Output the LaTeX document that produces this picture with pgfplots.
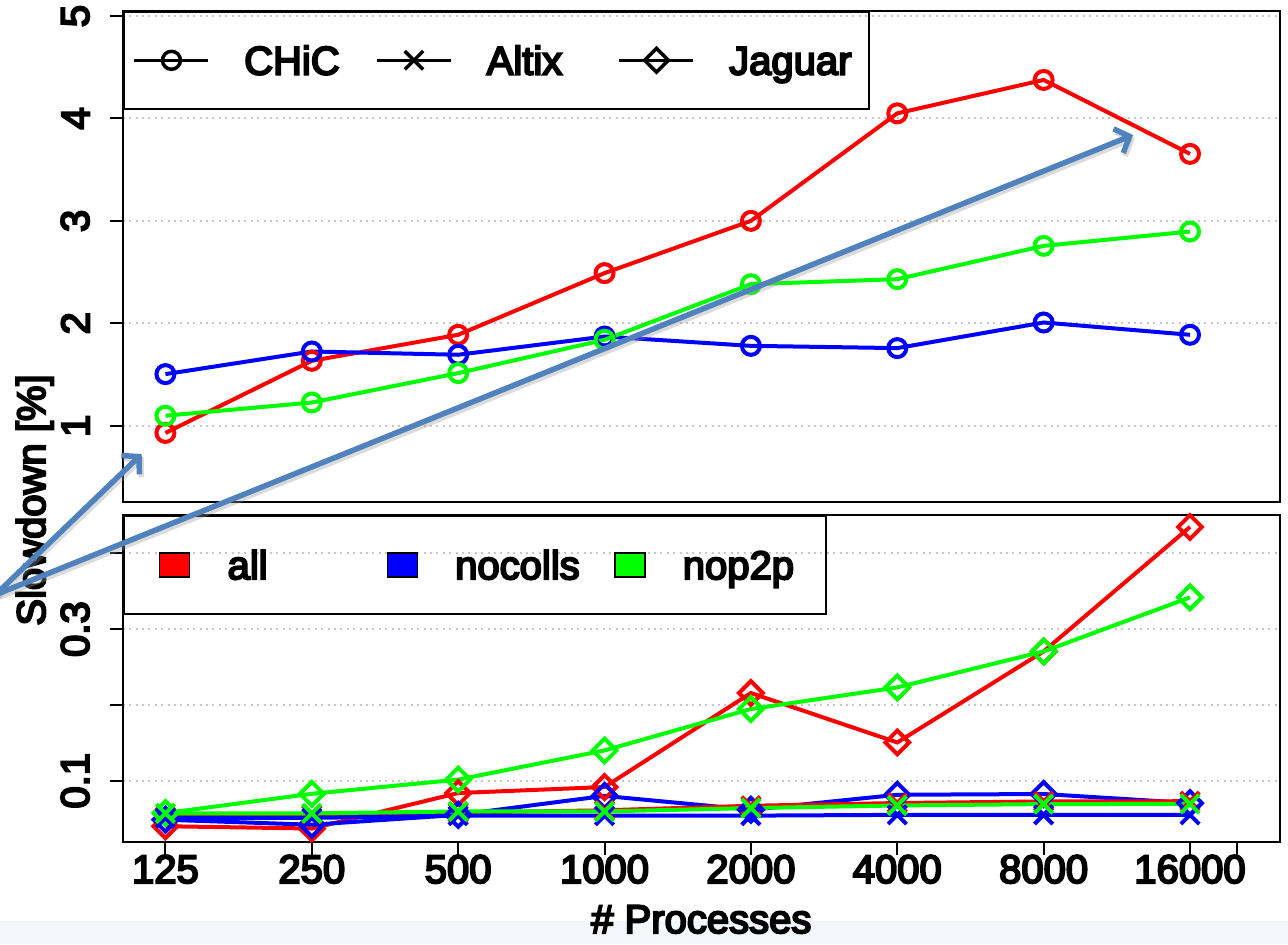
\documentclass[border=0pt]{standalone}
\usepackage{fontspec}
\setmainfont{Liberation Sans}[FakeBold=5]
\usepackage{pgfplots}
\usepackage{pgfplotstable}
\pgfplotsset{compat=1.18}
\usetikzlibrary{arrows.meta}
\definecolor{arrowblue}{RGB}{80,130,190}
\definecolor{stripblue}{RGB}{243,247,251}
\newcommand\cf{\fontsize{20}{24}\selectfont}

% CHiC (top panel)
\pgfplotstableread{
x all nocolls nop2p
0 0.93  1.504 1.098
1 1.634 1.725 1.227
2 1.888 1.693 1.514
3 2.49  1.871 1.839
4 3.00  1.78  2.382
5 4.05  1.758 2.431
6 4.376 2.008 2.756
7 3.654 1.888 2.896
}\chic
% Jaguar (bottom panel)
\pgfplotstableread{
x all nocolls nop2p
0 0.040  0.0486 0.0574
1 0.037  0.042  0.0828
2 0.0838 0.055  0.1015
3 0.0917 0.080  0.140
4 0.2157 0.0617 0.1946
5 0.1505 0.0815 0.2231
6 0.2706 0.0825 0.2706
7 0.4347 0.0706 0.3418
}\jaguar
% Altix (bottom panel)
\pgfplotstableread{
x all nocolls nop2p
0 0.053  0.051 0.057
1 0.055  0.051 0.057
2 0.058  0.054 0.0595
3 0.061  0.054 0.0595
4 0.067  0.054 0.064
5 0.0706 0.055 0.0674
6 0.0727 0.055 0.0692
7 0.073  0.055 0.0695
}\altix

\pgfplotsset{
  panel/.style={
    scale only axis, width=578.65pt,
    xmin=-0.292, xmax=7.615,
    tick pos=left, tick align=outside, major tick length=6.5pt,
    axis line style={line width=1pt},
    every tick/.style={black, line width=1pt},
    ymajorgrids, grid style={draw=black!22, line width=1pt, dash pattern=on 1pt off 2.2pt},
    tick label style={font=\cf},
    /pgf/number format/assume math mode=true,
    yticklabel style={xshift=-10pt, rotate=90, anchor=south, inner sep=0pt},
    xticklabel style={anchor=north, inner sep=0pt},
    label style={font=\cf},
    legend cell align=left,
  },
  dl/.style={line width=2pt, mark options={solid}},
}

\begin{document}
\begin{tikzpicture}
\path[use as bounding box] (0,0) rectangle (644pt,472pt);
\fill[stripblue] (0,0) rectangle (644pt,11.3pt);

% ---------- top panel: CHiC ----------
\begin{axis}[panel,
  at={(61.35pt,466.5pt)}, anchor=north west, height=245.35pt,
  ymin=0.2585, ymax=5.049,
  xtick=\empty, ytick={1,2,3,4,5},
  legend columns=3,
  legend image code/.code={\draw[mark repeat=2,mark phase=2,#1] plot coordinates {(0pt,0pt) (18.5pt,0pt) (37pt,0pt)};},
  legend style={at={(0,1)}, anchor=north west, draw=black, line width=1pt, fill=none,
    inner xsep=4.5pt, inner ysep=17pt, font=\cf,
    nodes={inner sep=0pt, text height=14.3pt, text depth=0pt, text width=65.5pt},
    /tikz/every odd column/.append style={column sep=17pt},
    /tikz/every even column/.append style={column sep=0pt}},
]
\addlegendimage{black, line width=1.75pt, mark=o, mark size=4.5pt, mark options={solid}}
\addlegendentry{CHiC}
\addlegendimage{black, line width=1.75pt, mark=x, mark size=6.5pt, mark options={solid}}
\addlegendentry{Altix}
\addlegendimage{black, line width=1.75pt, mark=square, mark size=4.2pt, mark options={solid, rotate=45}}
\addlegendentry{Jaguar}
\addplot[dl, red, mark=o, mark size=4.5pt, forget plot] table[x=x, y=all] {\chic};
\addplot[dl, blue, mark=o, mark size=4.5pt, forget plot] table[x=x, y=nocolls] {\chic};
\addplot[dl, green, mark=o, mark size=4.5pt, forget plot] table[x=x, y=nop2p] {\chic};
\end{axis}

% ---------- bottom panel: Altix and Jaguar ----------
\begin{axis}[panel,
  at={(61.35pt,214.5pt)}, anchor=north west, height=163.35pt,
  ymin=0.0196, ymax=0.4505,
  xtick={0,1,2,3,4,5,6,7,7.322},
  xticklabels={125,250,500,1000,2000,4000,8000,16000,},
  ytick={0.1,0.2,0.3,0.4}, yticklabels={0.1,,0.3,},
  xlabel={\# Processes},
  xlabel style={at={(axis description cs:0.5,0)}, anchor=base, yshift=-45.65pt},
  ylabel={Slowdown [\%]},
  ylabel style={at={(axis description cs:-0.0671,1.0459)}, anchor=base},
  legend columns=3,
  legend image code/.code={\path[draw=none, fill=none] (0pt,0pt) -- (12.4pt,0pt); \draw[#1, draw=black, line width=0.6pt] (12.4pt,-6pt) rectangle (27.4pt,6pt);},
  legend style={at={(0,1)}, anchor=north west, draw=black, line width=1pt, fill=none,
    inner xsep=5.6pt, inner ysep=17.3pt, font=\cf,
    nodes={inner sep=0pt, text height=14.3pt, text depth=0pt, text width=65.95pt},
    /tikz/every odd column/.append style={column sep=18.65pt},
    /tikz/every even column/.append style={column sep=1.5pt}},
]
\addlegendimage{fill=red}
\addlegendentry{all}
\addlegendimage{fill=blue}
\addlegendentry{nocolls}
\addlegendimage{fill=green}
\addlegendentry{nop2p}
\addplot[dl, red, mark=square, mark size=4.2pt, mark options={rotate=45}, forget plot] table[x=x, y=all] {\jaguar};
\addplot[dl, blue, mark=square, mark size=4.2pt, mark options={rotate=45}, forget plot] table[x=x, y=nocolls] {\jaguar};
\addplot[dl, green, mark=square, mark size=4.2pt, mark options={rotate=45}, forget plot] table[x=x, y=nop2p] {\jaguar};
\addplot[dl, red, mark=x, mark size=6.5pt, forget plot] table[x=x, y=all] {\altix};
\addplot[dl, blue, mark=x, mark size=6.5pt, forget plot] table[x=x, y=nocolls] {\altix};
\addplot[dl, green, mark=x, mark size=6.5pt, forget plot] table[x=x, y=nop2p] {\altix};
\end{axis}

% ---------- annotation arrows ----------
\begin{scope}[line width=2.75pt, line cap=round, line join=round]
\draw[black!40, opacity=0.35, -{Straight Barb[length=6pt,width=13pt]}, shift={(1pt,-1.5pt)}] (-5pt,172pt) -- (70.85pt,245pt);
\draw[black!40, opacity=0.35, -{Straight Barb[length=6pt,width=13pt]}, shift={(1pt,-1.5pt)}] (-5pt,173.5pt) -- (566.5pt,404.5pt);
\draw[arrowblue, -{Straight Barb[length=6pt,width=13pt]}] (-5pt,172pt) -- (70.85pt,245pt);
\draw[arrowblue, -{Straight Barb[length=6pt,width=13pt]}] (-5pt,173.5pt) -- (566.5pt,404.5pt);
\end{scope}
\end{tikzpicture}
\end{document}
